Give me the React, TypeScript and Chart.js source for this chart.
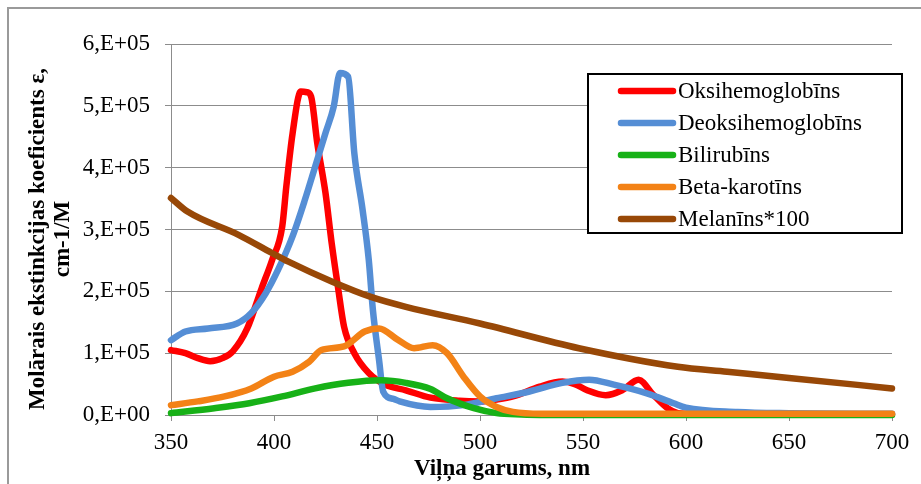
import React, { useEffect, useRef } from "react";
import { Chart, registerables } from "chart.js";

Chart.register(...registerables);

// ---- data ----
const SERIES_LABELS = [
  "Oksihemoglobīns",
  "Deoksihemoglobīns",
  "Bilirubīns",
  "Beta-karotīns",
  "Melanīns*100",
];
const SERIES_COLORS = ["#FF0000", "#558ED5", "#17B117", "#F38216", "#984807"];

const oksiNm = [350, 357, 363, 369, 375, 380, 387, 394, 399, 404, 406, 409, 413, 416, 418, 421, 425, 428, 431, 434, 439, 446, 454, 464, 476, 490, 500, 508, 516, 529, 540, 546, 552, 561, 569, 577, 584, 591, 596, 600, 650, 700];
const oksiVal = [105000, 100000, 92000, 87000, 92000, 103000, 140000, 205000, 250000, 305000, 370000, 455000, 523000, 522000, 515000, 440000, 359000, 278000, 208000, 143000, 100000, 68000, 49000, 40000, 28000, 23000, 22000, 25000, 30000, 46000, 54000, 50000, 40000, 32000, 40000, 57000, 33000, 11000, 3000, 2000, 1000, 1000];

const deoksiNm = [350, 357, 368, 382, 389, 396, 402, 409, 415, 420, 425, 429, 432, 436, 439, 443, 446, 448, 451, 453, 458, 461, 476, 492, 508, 524, 540, 553, 565, 581, 594, 600, 625, 650, 700];
const deoksiVal = [121000, 135000, 140000, 148000, 165000, 197000, 235000, 289000, 348000, 402000, 456000, 499000, 553000, 547000, 423000, 332000, 251000, 170000, 89000, 38000, 26000, 22000, 13000, 16000, 27000, 38000, 52000, 57000, 49000, 35000, 19000, 12000, 5000, 3000, 2000];

const biliNm = [350, 371, 388, 404, 420, 436, 452, 464, 476, 484, 497, 508, 520, 550, 700];
const biliVal = [3000, 11000, 19000, 30000, 43000, 52000, 56000, 52000, 42000, 27000, 11000, 3000, 1000, 0, 0];

const betaNm = [350, 363, 376, 389, 400, 409, 417, 423, 434, 444, 451, 460, 468, 477, 484, 492, 500, 508, 516, 530, 700];
const betaVal = [16000, 22000, 30000, 43000, 62000, 70000, 86000, 105000, 111000, 135000, 140000, 122000, 108000, 113000, 100000, 62000, 30000, 13000, 5000, 2000, 2000];

const melaNm = [350, 358, 383, 399, 407, 428, 447, 464, 500, 548, 596, 620, 650, 700];
const melaVal = [351000, 329000, 291000, 262000, 248000, 216000, 191000, 175000, 148000, 108000, 78000, 70000, 60000, 43000];

const SERIES_NM = [oksiNm, deoksiNm, biliNm, betaNm, melaNm];
const SERIES_VAL = [oksiVal, deoksiVal, biliVal, betaVal, melaVal];

const X_MIN = 350;
const X_MAX = 700;
const X_STEP = 50;
const Y_MIN = 0;
const Y_MAX = 600000;
const Y_STEP = 100000;

const X_TITLE = "Viļņa garums, nm";
const Y_TITLE = ["Molārais ekstinkcijas koeficients ε,", "cm-1/M"];

const FONT = "'Liberation Serif', 'Times New Roman', serif";
const GRID = "#8C8C8C";

function formatY(v: number): string {
  if (v === 0) return "0,E+00";
  return `${Math.round(v / 100000)},E+05`;
}

const decorPlugin = {
  id: "decor",
  beforeDraw(chart: any) {
    const ctx = chart.ctx;
    ctx.save();
    ctx.fillStyle = "#FFFFFF";
    ctx.fillRect(0, 0, chart.width, chart.height);
    ctx.strokeStyle = "#9A9A9A";
    ctx.lineWidth = 2;
    ctx.strokeRect(8, 8, chart.width + 20, chart.height + 20);
    ctx.restore();
  },
  afterDraw(chart: any) {
    const ctx = chart.ctx;
    ctx.save();
    // axis titles
    ctx.fillStyle = "#000000";
    ctx.font = `bold 23px ${FONT}`;
    ctx.textAlign = "center";
    ctx.textBaseline = "middle";
    ctx.fillText(X_TITLE, 502, 469);
    Y_TITLE.forEach((line, i) => {
      ctx.save();
      ctx.translate(38 + i * 25, 239);
      ctx.rotate(-Math.PI / 2);
      ctx.fillText(line, 0, 0);
      ctx.restore();
    });
    // legend
    const lx = 588, ly = 74, lw = 314, lh = 159;
    ctx.fillStyle = "#FFFFFF";
    ctx.fillRect(lx, ly, lw, lh);
    ctx.strokeStyle = "#000000";
    ctx.lineWidth = 2;
    ctx.strokeRect(lx, ly, lw, lh);
    ctx.font = `23px ${FONT}`;
    ctx.textAlign = "left";
    ctx.textBaseline = "middle";
    chart.data.datasets.forEach((ds: any, i: number) => {
      const y = 91 + i * 32;
      ctx.strokeStyle = ds.borderColor;
      ctx.lineWidth = 6.5;
      ctx.lineCap = "round";
      ctx.beginPath();
      ctx.moveTo(621, y);
      ctx.lineTo(673, y);
      ctx.stroke();
      ctx.fillStyle = "#000000";
      ctx.fillText(ds.label, 678, y + 1);
    });
    ctx.restore();
  },
};

export default function App() {
  const ref = useRef<HTMLCanvasElement | null>(null);

  useEffect(() => {
    document.body.style.margin = "0";
    const canvas = ref.current;
    if (!canvas) return;
    const datasets = SERIES_LABELS.map((label, i) => ({
      label,
      data: SERIES_NM[i].map((x, j) => ({ x, y: SERIES_VAL[i][j] })),
      borderColor: SERIES_COLORS[i],
      backgroundColor: SERIES_COLORS[i],
      borderWidth: 6.5,
      pointRadius: 0,
      tension: 0.4,
      cubicInterpolationMode: "monotone" as const,
      borderCapStyle: "round" as const,
      borderJoinStyle: "round" as const,
      fill: false,
      clip: 10,
      order: SERIES_LABELS.length - 1 - i,
    }));

    const chart = new Chart(canvas, {
      type: "line",
      data: { datasets },
      options: {
        animation: false,
        responsive: false,
        devicePixelRatio: 1,
        layout: { padding: { left: 0, top: 44, right: 29, bottom: 0 } },
        plugins: {
          legend: { display: false },
          tooltip: { enabled: false },
        },
        scales: {
          x: {
            type: "linear",
            min: X_MIN,
            max: X_MAX,
            afterFit: (scale: any) => {
              scale.height = 69;
            },
            afterBuildTicks: (scale: any) => {
              const t = [];
              for (let v = X_MIN; v <= X_MAX; v += X_STEP) t.push({ value: v });
              scale.ticks = t;
            },
            ticks: {
              stepSize: X_STEP,
              color: "#000000",
              font: { family: FONT, size: 23 },
              padding: 8,
              maxRotation: 0,
            },
            grid: {
              drawOnChartArea: false,
              drawTicks: true,
              tickLength: 6,
              color: GRID,
            },
            border: { color: GRID, width: 1 },
          },
          y: {
            type: "linear",
            min: Y_MIN,
            max: Y_MAX,
            afterFit: (scale: any) => {
              scale.width = 171;
            },
            ticks: {
              stepSize: Y_STEP,
              color: "#000000",
              font: { family: FONT, size: 23 },
              padding: 15,
              callback: (v: any) => formatY(Number(v)),
            },
            grid: {
              drawOnChartArea: true,
              drawTicks: true,
              tickLength: 6,
              color: GRID,
            },
            border: { color: GRID, width: 1 },
          },
        },
      },
      plugins: [decorPlugin],
    });
    return () => chart.destroy();
  }, []);

  return (
    <div style={{ position: "absolute", left: 0, top: 0, width: 921, height: 484 }}>
      <canvas ref={ref} width={921} height={484} style={{ display: "block" }} />
    </div>
  );
}
